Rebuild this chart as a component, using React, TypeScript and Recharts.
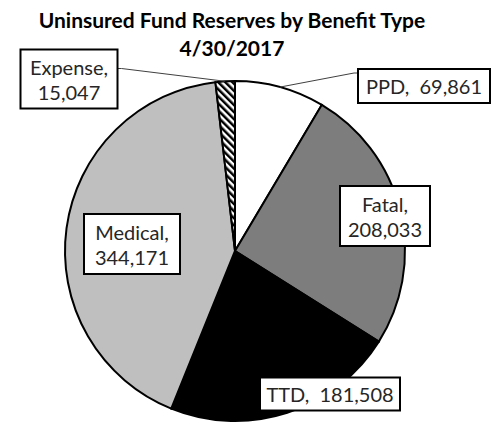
import React from 'react';
import { PieChart, Pie, Cell } from 'recharts';

const categories = ['PPD', 'Fatal', 'TTD', 'Medical', 'Expense'];
const reserves = [69861, 208033, 181508, 344171, 15047];

const fills = ['#ffffff', '#7d7d7d', '#000000', '#bfbfbf', 'url(#expenseHatch)'];

// label box placement, relative to the pie centre
const labelLayout = [
  { dx: 189, dy: -165, w: 132, h: 34, lines: 1, leader: 'left' },
  { dx: 150, dy: -35, w: 90, h: 60, lines: 2, leader: null },
  { dx: 95, dy: 143, w: 140, h: 33, lines: 1, leader: null },
  { dx: -103, dy: -7, w: 96, h: 60, lines: 2, leader: null },
  { dx: -166, dy: -172, w: 97, h: 59, lines: 2, leader: 'right' },
];

const data = categories.map((name, i) => ({ name, value: reserves[i] }));

const FONT = 'Lato, "Open Sans", sans-serif';
const RAD = Math.PI / 180;

function renderLabel(props: any) {
  const { cx, cy, midAngle, outerRadius, index, value, name } = props;
  const lay = labelLayout[index];
  const bx = cx + lay.dx;
  const by = cy + lay.dy;
  const valueText = Number(value).toLocaleString('en-US');
  let leader = null;
  if (lay.leader) {
    const px = cx + outerRadius * Math.cos(-midAngle * RAD);
    const py = cy + outerRadius * Math.sin(-midAngle * RAD);
    const ex = lay.leader === 'left' ? bx - lay.w / 2 : bx + lay.w / 2;
    const ey = by - lay.h / 2 + (lay.leader === 'left' ? 4 : 19);
    const kx = lay.leader === 'left' ? ex - 4 : ex + 4;
    leader = (
      <polyline
        points={`${px},${py} ${kx},${ey} ${ex},${ey}`}
        fill="none"
        stroke="#404040"
        strokeWidth={1}
      />
    );
  }
  return (
    <g key={`lbl-${index}`}>
      {leader}
      <rect
        x={bx - lay.w / 2}
        y={by - lay.h / 2}
        width={lay.w}
        height={lay.h}
        fill="#ffffff"
        stroke="#000000"
        strokeWidth={2}
      />
      {lay.lines === 1 ? (
        <text
          x={bx}
          y={by}
          textAnchor="middle"
          dominantBaseline="central"
          fontFamily={FONT}
          fontSize={20}
          fill="#262626"
          style={{ whiteSpace: 'pre' }}
        >
          {`${name},  ${valueText}`}
        </text>
      ) : (
        <text
          x={bx}
          textAnchor="middle"
          dominantBaseline="central"
          fontFamily={FONT}
          fontSize={20}
          fill="#262626"
        >
          <tspan x={bx} y={by - 12}>{`${name},`}</tspan>
          <tspan x={bx} y={by + 13}>{valueText}</tspan>
        </text>
      )}
    </g>
  );
}

export default function App() {
  return (
    <div style={{ position: 'absolute', left: 0, top: 0, width: 497, height: 425, background: '#fff' }}>
      <div
        style={{
          position: 'absolute',
          left: 0,
          top: 6,
          width: 464,
          textAlign: 'center',
          fontFamily: FONT,
          fontWeight: 700,
          fontSize: 21,
          lineHeight: '28px',
          color: '#000',
        }}
      >
        Uninsured Fund Reserves by Benefit Type
        <br />
        4/30/2017
      </div>
      <PieChart width={497} height={425} style={{ position: 'absolute', left: 0, top: 0 }}>
        <defs>
          <pattern
            id="expenseHatch"
            width={5}
            height={5}
            patternUnits="userSpaceOnUse"
            patternTransform="rotate(-45)"
          >
            <rect width={5} height={5} fill="#ffffff" />
            <rect width={2.5} height={5} fill="#000000" />
          </pattern>
        </defs>
        <Pie
          data={data}
          dataKey="value"
          nameKey="name"
          cx={230}
          cy={246}
          outerRadius={170}
          startAngle={90}
          endAngle={-270}
          stroke="#000000"
          strokeWidth={2}
          label={renderLabel}
          labelLine={false}
          isAnimationActive={false}
        >
          {data.map((d, i) => (
            <Cell key={d.name} fill={fills[i]} />
          ))}
        </Pie>
      </PieChart>
    </div>
  );
}
